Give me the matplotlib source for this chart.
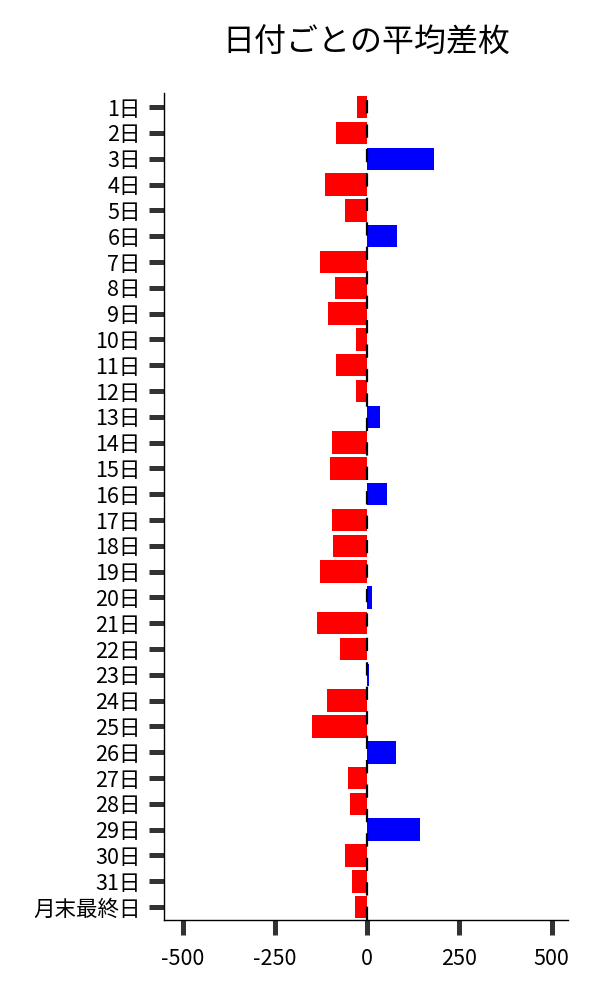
import matplotlib
matplotlib.use("Agg")
import matplotlib.pyplot as plt
import numpy as np

plt.rcParams['font.family'] = ['Noto Sans CJK JP', 'DejaVu Sans']

categories = [f"{d}日" for d in range(1, 32)] + ["月末最終日"]
values = [-27, -84, 182, -114, -60, 81, -127, -87, -106, -30,
          -84, -30, 34, -95, -100, 54, -95, -92, -127, 13,
          -135, -73, 5, -108, -149, 79, -51, -46, 144, -60,
          -40, -32]
x_ticks = [-500, -250, 0, 250, 500]

fig = plt.figure(figsize=(6, 10), dpi=100)
ax = fig.add_axes([0.274, 0.08, 0.673, 0.827])

colors = ['blue' if v > 0 else 'red' for v in values]
y = np.arange(len(categories))
ax.barh(y, values, height=0.87, color=colors, zorder=2)
ax.axvline(0, color='black', linestyle=(0, (6, 5)), linewidth=1.6, zorder=3)

ax.set_yticks(y)
ax.set_yticklabels(categories)
ax.set_ylim(len(categories) - 0.5, -0.55)
ax.set_xlim(-550, 545)
ax.set_xticks(x_ticks)
ax.set_xticklabels([str(t) for t in x_ticks])

ax.tick_params(axis='both', labelsize=15.5, color='#333333', length=11, width=3.6)
ax.tick_params(axis='y', pad=6)
ax.tick_params(axis='x', pad=9)
for side in ['top', 'right']:
    ax.spines[side].set_visible(False)
for side in ['left', 'bottom']:
    ax.spines[side].set_color('black')
    ax.spines[side].set_linewidth(1)

fig.text(0.61, 0.957, "日付ごとの平均差枚", ha='center', va='center', fontsize=23)

fig.savefig("out.png", dpi=100)
